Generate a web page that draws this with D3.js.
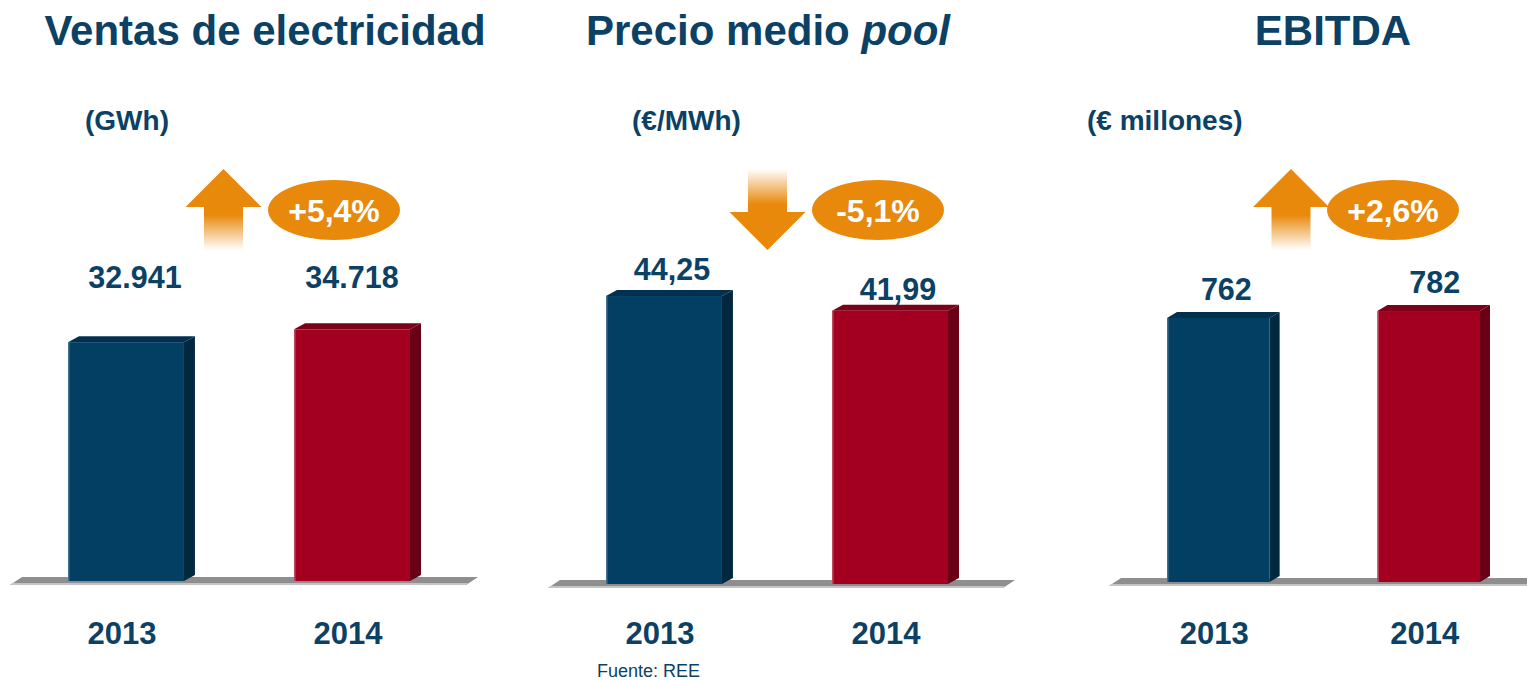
<!DOCTYPE html>
<html>
<head>
<meta charset="utf-8">
<script src="https://cdn.jsdelivr.net/npm/d3@7"></script>
<style>
  html, body { margin: 0; padding: 0; background: #ffffff; }
  svg { display: block; font-family: "Liberation Sans", Arial, sans-serif; }
</style>
</head>
<body>
<svg id="chart" width="1527" height="680"></svg>
<script>
// ---- data ----
const years = ["2013", "2014"];
const ventas = [32941, 34718];        // GWh
const precio = [44.25, 41.99];        // €/MWh
const ebitda = [762, 782];            // € millones
const titles = ["Ventas de electricidad", "Precio medio ", "EBITDA"];
const titleItalic = ["", "pool", ""];
const units = ["(GWh)", "(€/MWh)", "(€ millones)"];
const source = "Fuente: REE";

// ---- style / layout (not data) ----
const navy = "#0b4165";
const orange = "#e8890c";
const barColors = [
  { front: "#023f62", top: "#02304e", side: "#022840", edge: "#6f93ad" },
  { front: "#a30021", top: "#7c0018", side: "#6a0015", edge: "#cf7a8a" }
];
const es = d3.formatLocale({ decimal: ",", thousands: ".", grouping: [3], currency: ["", " €"], minus: "-" });
const pct = es.format("+.1%");

const panels = [
  { values: ventas, fmt: es.format(","), titleX: 265, unitX: 85, band: [68, 410], pad: 0.487,
    base: 581, domain: [0, 40000], top: 291, dx: 11, dy: 6, floorRight: 478,
    labelY: [288, 288], labelDx: [9, 0], arrowX: 223.5, badgeX: 334 },
  { values: precio, fmt: es.format(",.2f"), titleX: 768, unitX: 632, band: [606, 948], pad: 0.487,
    base: 584, domain: [0, 50], top: 258.6, dx: 11, dy: 6, floorRight: 1015,
    labelDy: [16, 11], labelDx: [8, 8], arrowX: 767.5, badgeX: 878 },
  { values: ebitda, fmt: es.format(","), titleX: 1333, unitX: 1087, band: [1167, 1480], pad: 0.512,
    base: 582, domain: [0, 1000], top: 235.5, dx: 10, dy: 6, floorRight: 1545,
    labelDy: [18, 18], labelDx: [8, 6], arrowX: 1291, badgeX: 1393 }
];

const svg = d3.select("#chart");
const defs = svg.append("defs");
const gUp = defs.append("linearGradient").attr("id", "gradUp").attr("x1", 0).attr("y1", 0).attr("x2", 0).attr("y2", 1);
gUp.append("stop").attr("offset", "0").attr("stop-color", orange);
gUp.append("stop").attr("offset", "0.2").attr("stop-color", orange);
gUp.append("stop").attr("offset", "1").attr("stop-color", "#ffffff");
const gDn = defs.append("linearGradient").attr("id", "gradDn").attr("x1", 0).attr("y1", 0).attr("x2", 0).attr("y2", 1);
gDn.append("stop").attr("offset", "0").attr("stop-color", "#ffffff");
gDn.append("stop").attr("offset", "0.8").attr("stop-color", orange);
gDn.append("stop").attr("offset", "1").attr("stop-color", orange);

panels.forEach((p, i) => {
  const g = svg.append("g");
  const x = d3.scaleBand().domain(years).range(p.band).paddingInner(p.pad).paddingOuter(0);
  const y = d3.scaleLinear().domain(p.domain).range([p.base, p.top]);
  const bw = x.bandwidth();

  // title
  const t = g.append("text").attr("x", p.titleX).attr("y", 45).attr("text-anchor", "middle")
    .attr("font-size", 42).attr("font-weight", "bold").attr("fill", navy).text(titles[i]);
  if (titleItalic[i]) t.append("tspan").attr("font-style", "italic").text(titleItalic[i]);

  // unit
  g.append("text").attr("x", p.unitX).attr("y", 130).attr("font-size", 28).attr("font-weight", "bold")
    .attr("fill", navy).text(units[i]);

  // floor
  const x0 = p.band[0], fr = p.floorRight;
  g.append("polygon").attr("fill", "#8e8e8e")
    .attr("points", [[x0 - 46, p.base - 4], [fr, p.base - 4], [fr - 12, p.base + 4], [x0 - 58, p.base + 4]].map(d => d.join(",")).join(" "));
  g.append("polygon").attr("fill", "#c4c4c4")
    .attr("points", [[x0 - 56, p.base + 2], [fr - 10, p.base + 2], [fr - 12, p.base + 4], [x0 - 58, p.base + 4]].map(d => d.join(",")).join(" "));

  // bars
  years.forEach((yr, j) => {
    const v = p.values[j];
    const xb = x(yr), yt = y(v), c = barColors[j];
    g.append("polygon").attr("fill", c.top)
      .attr("points", [[xb, yt], [xb + p.dx, yt - p.dy], [xb + bw + p.dx, yt - p.dy], [xb + bw, yt]].map(d => d.join(",")).join(" "));
    g.append("polygon").attr("fill", c.side)
      .attr("points", [[xb + bw, yt], [xb + bw + p.dx, yt - p.dy], [xb + bw + p.dx, y(0) - p.dy], [xb + bw, y(0)]].map(d => d.join(",")).join(" "));
    g.append("rect").attr("x", xb).attr("y", yt).attr("width", bw).attr("height", y(0) - yt).attr("fill", c.front);
    g.append("rect").attr("x", xb).attr("y", yt).attr("width", 1.5).attr("height", y(0) - yt).attr("fill", c.edge).attr("opacity", 0.6);

    // value label
    const ly = p.labelY ? p.labelY[j] : yt - p.labelDy[j];
    g.append("text").attr("x", xb + bw / 2 + p.labelDx[j]).attr("y", ly).attr("text-anchor", "middle")
      .attr("font-size", 30.5).attr("font-weight", "bold").attr("fill", navy).text(p.fmt(v));

    // year label
    g.append("text").attr("x", xb + bw / 2 - 4).attr("y", 644).attr("text-anchor", "middle")
      .attr("font-size", 31).attr("font-weight", "bold").attr("fill", navy).text(yr);
  });

  // change arrow + badge
  const change = p.values[1] / p.values[0] - 1;
  const ax = p.arrowX;
  if (change >= 0) {
    g.append("rect").attr("x", ax - 19.5).attr("y", 206).attr("width", 39).attr("height", 44).attr("fill", "url(#gradUp)");
    g.append("polygon").attr("fill", orange)
      .attr("points", [[ax, 169], [ax + 38, 207], [ax - 38, 207]].map(d => d.join(",")).join(" "));
  } else {
    g.append("rect").attr("x", ax - 19.5).attr("y", 169).attr("width", 39).attr("height", 44).attr("fill", "url(#gradDn)");
    g.append("polygon").attr("fill", orange)
      .attr("points", [[ax - 38, 212], [ax + 38, 212], [ax, 250]].map(d => d.join(",")).join(" "));
  }
  g.append("ellipse").attr("cx", p.badgeX).attr("cy", 210).attr("rx", 66).attr("ry", 30).attr("fill", orange);
  g.append("text").attr("x", p.badgeX).attr("y", 222).attr("text-anchor", "middle")
    .attr("font-size", 32).attr("font-weight", "bold").attr("fill", "#ffffff").text(pct(change));
});

svg.append("text").attr("x", 597).attr("y", 677).attr("font-size", 18).attr("fill", navy).text(source);
</script>
</body>
</html>
